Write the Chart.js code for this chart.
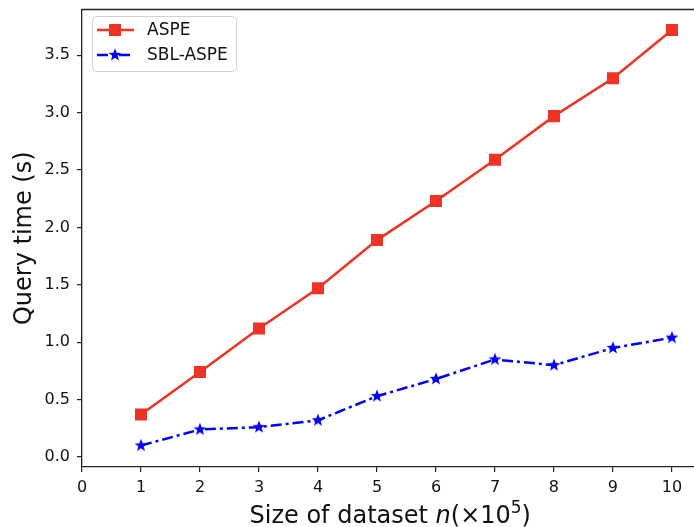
<!DOCTYPE html>
<html>
<head>
<meta charset="utf-8">
<script src="https://cdn.jsdelivr.net/npm/chart.js@4/dist/chart.umd.min.js"></script>
<style>
  html, body { margin: 0; padding: 0; background: #fff; overflow: hidden; }
  canvas { display: block; }
</style>
</head>
<body>
<canvas id="myChart" width="708" height="527"></canvas>
<script>
// values
const sizes = [1, 2, 3, 4, 5, 6, 7, 8, 9, 10];
const aspe = [0.37, 0.74, 1.12, 1.47, 1.89, 2.23, 2.59, 2.97, 3.30, 3.72];
const sblAspe = [0.10, 0.24, 0.26, 0.32, 0.53, 0.68, 0.85, 0.80, 0.95, 1.04];
const yTicks = [0, 0.5, 1.0, 1.5, 2.0, 2.5, 3.0, 3.5];

const RED = '#ee3325';
const BLUE = '#0000ff';
const FONT = '"DejaVu Sans", "Liberation Sans", sans-serif';

// filled five point star, like matplotlib marker '*'
function makeStar(color) {
  const c = document.createElement('canvas');
  c.width = 16; c.height = 16;
  const g = c.getContext('2d');
  g.fillStyle = color;
  g.beginPath();
  for (let i = 0; i < 10; i++) {
    const r = i % 2 === 0 ? 6.8 : 2.8;
    const a = -Math.PI / 2 + i * Math.PI / 5;
    const px = 8 + r * Math.cos(a), py = 8 + r * Math.sin(a);
    if (i === 0) g.moveTo(px, py); else g.lineTo(px, py);
  }
  g.closePath();
  g.fill();
  return c;
}
const star = makeStar(BLUE);

const data = {
  datasets: [{
    label: 'ASPE',
    data: sizes.map((s, i) => ({x: s, y: aspe[i]})),
    borderColor: RED,
    backgroundColor: RED,
    borderWidth: 2.5,
    pointStyle: 'rect',
    pointRadius: 8.5,
    pointBorderWidth: 0,
    pointBackgroundColor: RED,
    tension: 0
  }, {
    label: 'SBL-ASPE',
    data: sizes.map((s, i) => ({x: s, y: sblAspe[i]})),
    borderColor: BLUE,
    backgroundColor: BLUE,
    borderWidth: 2.5,
    borderDash: [11, 4, 3, 4],
    pointStyle: star,
    pointRadius: 7,
    tension: 0
  }]
};

// legend box drawn matplotlib style (line + marker)
const mplLegend = {
  id: 'mplLegend',
  afterDraw(chart) {
    const ctx = chart.ctx;
    ctx.save();
    ctx.fillStyle = 'rgba(255,255,255,0.8)';
    ctx.strokeStyle = '#d0d0d0';
    ctx.lineWidth = 1;
    ctx.beginPath();
    ctx.roundRect(92.5, 16.5, 144, 55, 4);
    ctx.fill();
    ctx.stroke();
    const rows = [30, 55];
    chart.data.datasets.forEach((ds, i) => {
      const y = rows[i];
      ctx.strokeStyle = ds.borderColor;
      ctx.lineWidth = ds.borderWidth;
      ctx.setLineDash(ds.borderDash || []);
      ctx.beginPath();
      ctx.moveTo(97, y);
      ctx.lineTo(134, y);
      ctx.stroke();
      ctx.setLineDash([]);
      if (ds.pointStyle === 'rect') {
        ctx.fillStyle = ds.pointBackgroundColor;
        ctx.fillRect(109, y - 6, 12, 12);
      } else {
        ctx.drawImage(ds.pointStyle, 115 - 8, y - 8);
      }
      ctx.fillStyle = '#111';
      ctx.font = '17px ' + FONT;
      ctx.textBaseline = 'middle';
      ctx.textAlign = 'left';
      ctx.fillText(ds.label, 147, y + 1);
    });
    ctx.restore();
  }
};

// top spine and x axis title with italic n and superscript
const frameAndTitle = {
  id: 'frameAndTitle',
  afterDraw(chart) {
    const ctx = chart.ctx;
    const a = chart.chartArea;
    ctx.save();
    ctx.strokeStyle = '#222';
    ctx.lineWidth = 1.3;
    ctx.beginPath();
    ctx.moveTo(a.left, a.top);
    ctx.lineTo(a.right, a.top);
    ctx.moveTo(a.right, a.top);
    ctx.lineTo(a.right, a.bottom);
    ctx.stroke();

    const parts = [
      {t: 'Size of dataset ', f: '24px ' + FONT, dy: 0},
      {t: 'n', f: 'italic 24px ' + FONT, dy: 0},
      {t: '(\u00d710', f: '24px ' + FONT, dy: 0},
      {t: '5', f: '17px ' + FONT, dy: -10},
      {t: ')', f: '24px ' + FONT, dy: 0}
    ];
    let total = 0;
    parts.forEach(p => { ctx.font = p.f; p.w = ctx.measureText(p.t).width; total += p.w; });
    let x = (a.left + a.right) / 2 - total / 2;
    const base = 523;
    ctx.fillStyle = '#111';
    ctx.textBaseline = 'alphabetic';
    ctx.textAlign = 'left';
    parts.forEach(p => {
      ctx.font = p.f;
      ctx.fillText(p.t, x, base + p.dy);
      x += p.w;
    });
    ctx.restore();
  }
};

const config = {
  type: 'line',
  data: data,
  options: {
    responsive: false,
    animation: false,
    layout: { padding: { top: 7, right: 3, left: 0, bottom: 0 } },
    plugins: {
      legend: { display: false },
      tooltip: { enabled: false }
    },
    scales: {
      x: {
        type: 'linear',
        min: 0,
        max: 10.45,
        afterFit: s => { s.height = 60; s.paddingLeft = 0; s.paddingRight = 0; },
        ticks: {
          stepSize: 1,
          includeBounds: false,
          color: '#111',
          padding: 6,
          font: { family: FONT, size: 16 }
        },
        grid: { display: true, drawOnChartArea: false, drawTicks: true, tickLength: 5, color: '#222', lineWidth: 1.2 },
        border: { display: true, color: '#222', width: 1.3 }
      },
      y: {
        min: -0.087,
        max: 3.899,
        afterFit: s => { s.width = 82; s.paddingTop = 0; s.paddingBottom = 0; },
        afterBuildTicks: s => { s.ticks = yTicks.map(v => ({value: v})); },
        ticks: {
          color: '#111',
          padding: 7,
          font: { family: FONT, size: 16 },
          callback: v => Number(v).toFixed(1)
        },
        grid: { display: true, drawOnChartArea: false, drawTicks: true, tickLength: 5, color: '#222', lineWidth: 1.2 },
        border: { display: true, color: '#222', width: 1.3 },
        title: {
          display: true,
          text: 'Query time (s)',
          color: '#111',
          font: { family: FONT, size: 24 },
          padding: { top: 10, bottom: 0 }
        }
      }
    }
  },
  plugins: [mplLegend, frameAndTitle]
};

const myChart = new Chart(document.getElementById('myChart'), config);
</script>
</body>
</html>
